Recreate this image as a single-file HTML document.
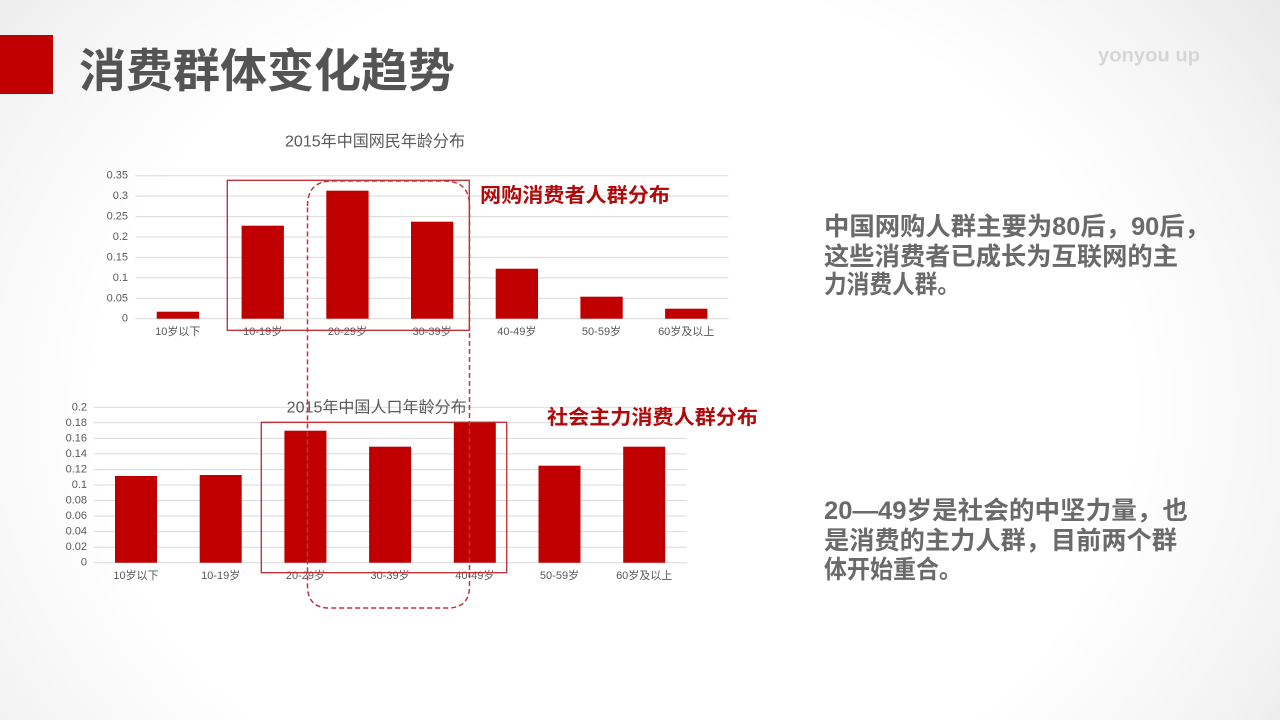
<!DOCTYPE html>
<html><head><meta charset="utf-8">
<style>
html,body{margin:0;padding:0;}
body{width:1280px;height:720px;overflow:hidden;
background:radial-gradient(ellipse 78% 115% at 48% 56%, #ffffff 52%, #f4f4f4 70%, #d8d8d8 100%);}
svg{display:block;}
text{font-family:"Liberation Sans","Noto Sans CJK SC",sans-serif;}
</style></head>
<body>
<svg width="1280" height="720" viewBox="0 0 1280 720" xmlns="http://www.w3.org/2000/svg">
<!-- header -->
<rect x="0" y="35" width="53" height="59" fill="#c00000"/>
<text x="79" y="71" font-size="46" font-weight="bold" fill="#545454" dominant-baseline="central" textLength="376" lengthAdjust="spacingAndGlyphs">消费群体变化趋势</text>
<text x="1098" y="56" font-size="19" font-weight="bold" fill="#d6d6d6" dominant-baseline="central" textLength="102" lengthAdjust="spacingAndGlyphs">yonyou up</text>

<!-- top chart -->
<text x="375" y="142" font-size="16" fill="#595959" text-anchor="middle" dominant-baseline="central" textLength="180" lengthAdjust="spacingAndGlyphs">2015年中国网民年龄分布</text>
<g stroke="#d9d9d9" stroke-width="1">
<line x1="135.5" x2="728.5" y1="318.7" y2="318.7"/>
<line x1="135.5" x2="728.5" y1="298.3" y2="298.3"/>
<line x1="135.5" x2="728.5" y1="277.9" y2="277.9"/>
<line x1="135.5" x2="728.5" y1="257.4" y2="257.4"/>
<line x1="135.5" x2="728.5" y1="237.0" y2="237.0"/>
<line x1="135.5" x2="728.5" y1="216.6" y2="216.6"/>
<line x1="135.5" x2="728.5" y1="196.1" y2="196.1"/>
<line x1="135.5" x2="728.5" y1="175.7" y2="175.7"/>
</g>
<g font-size="11" fill="#595959" text-anchor="end" dominant-baseline="central">
<text x="128" y="318.7">0</text>
<text x="128" y="298.3">0.05</text>
<text x="128" y="277.9">0.1</text>
<text x="128" y="257.4">0.15</text>
<text x="128" y="237.0">0.2</text>
<text x="128" y="216.6">0.25</text>
<text x="128" y="196.1">0.3</text>
<text x="128" y="175.7">0.35</text>
</g>
<g fill="#c00000">
<rect x="156.7" y="311.7" width="42.3" height="7"/>
<rect x="241.6" y="225.7" width="42.3" height="93"/>
<rect x="326.3" y="190.7" width="42.3" height="128"/>
<rect x="411.0" y="221.7" width="42.3" height="97"/>
<rect x="495.7" y="268.7" width="42.3" height="50"/>
<rect x="580.4" y="296.7" width="42.3" height="22"/>
<rect x="665.1" y="308.7" width="42.3" height="10"/>
</g>
<g font-size="11" fill="#595959" text-anchor="middle" dominant-baseline="central">
<text x="177.8" y="332">10岁以下</text>
<text x="262.7" y="332">10-19岁</text>
<text x="347.4" y="332">20-29岁</text>
<text x="432.1" y="332">30-39岁</text>
<text x="516.8" y="332">40-49岁</text>
<text x="601.5" y="332">50-59岁</text>
<text x="686.2" y="332">60岁及以上</text>
</g>
<rect x="227.3" y="180.3" width="242" height="150" fill="none" stroke="#c0282e" stroke-width="1.3"/>
<text x="480" y="196" font-size="20" font-weight="bold" fill="#b00a0a" dominant-baseline="central" textLength="190" lengthAdjust="spacingAndGlyphs">网购消费者人群分布</text>

<!-- bottom chart -->
<g stroke="#d9d9d9" stroke-width="1">
<line x1="93.8" x2="686.8" y1="562.7" y2="562.7"/>
<line x1="93.8" x2="686.8" y1="547.2" y2="547.2"/>
<line x1="93.8" x2="686.8" y1="531.6" y2="531.6"/>
<line x1="93.8" x2="686.8" y1="516.1" y2="516.1"/>
<line x1="93.8" x2="686.8" y1="500.5" y2="500.5"/>
<line x1="93.8" x2="686.8" y1="485.0" y2="485.0"/>
<line x1="93.8" x2="686.8" y1="469.5" y2="469.5"/>
<line x1="93.8" x2="686.8" y1="453.9" y2="453.9"/>
<line x1="93.8" x2="686.8" y1="438.4" y2="438.4"/>
<line x1="93.8" x2="686.8" y1="422.8" y2="422.8"/>
<line x1="93.8" x2="686.8" y1="407.3" y2="407.3"/>
</g>
<text x="376.7" y="408" font-size="16" fill="#595959" text-anchor="middle" dominant-baseline="central" textLength="180" lengthAdjust="spacingAndGlyphs">2015年中国人口年龄分布</text>
<g font-size="11" fill="#595959" text-anchor="end" dominant-baseline="central">
<text x="87" y="562.7">0</text>
<text x="87" y="547.2">0.02</text>
<text x="87" y="531.6">0.04</text>
<text x="87" y="516.1">0.06</text>
<text x="87" y="500.5">0.08</text>
<text x="87" y="485.0">0.1</text>
<text x="87" y="469.5">0.12</text>
<text x="87" y="453.9">0.14</text>
<text x="87" y="438.4">0.16</text>
<text x="87" y="422.8">0.18</text>
<text x="87" y="407.3">0.2</text>
</g>
<g fill="#c00000">
<rect x="115" y="476" width="42" height="86.7"/>
<rect x="199.7" y="475" width="42" height="87.7"/>
<rect x="284.4" y="430.7" width="42" height="132"/>
<rect x="369.1" y="446.7" width="42" height="116"/>
<rect x="453.8" y="421.7" width="42" height="141"/>
<rect x="538.5" y="465.7" width="42" height="97"/>
<rect x="623.2" y="446.7" width="42" height="116"/>
</g>
<g font-size="11" fill="#595959" text-anchor="middle" dominant-baseline="central">
<text x="136" y="576">10岁以下</text>
<text x="220.7" y="576">10-19岁</text>
<text x="305.4" y="576">20-29岁</text>
<text x="390.1" y="576">30-39岁</text>
<text x="474.8" y="576">40-49岁</text>
<text x="559.5" y="576">50-59岁</text>
<text x="644.2" y="576">60岁及以上</text>
</g>
<rect x="261.3" y="422.3" width="245.4" height="150.4" fill="none" stroke="#c0282e" stroke-width="1.3"/>
<text x="547" y="418" font-size="20" font-weight="bold" fill="#b00a0a" dominant-baseline="central" textLength="211" lengthAdjust="spacingAndGlyphs">社会主力消费人群分布</text>

<!-- dashed rounded rect -->
<path d="M307.5 206 Q307.5 181 332.5 181 L444.5 181 Q469.5 181 469.5 206 L469.5 586 Q469.5 608 447.5 608 L329.5 608 Q307.5 608 307.5 586 Z" fill="none" stroke="#c8323c" stroke-width="1.5" stroke-dasharray="5 3"/>

<!-- right paragraphs -->
<g font-size="25" font-weight="bold" fill="#6a6a6a" dominant-baseline="central">
<text x="824" y="227" textLength="386" lengthAdjust="spacingAndGlyphs">中国网购人群主要为80后，90后，</text>
<text x="824" y="257" textLength="354" lengthAdjust="spacingAndGlyphs">这些消费者已成长为互联网的主</text>
<text x="824" y="285" textLength="136" lengthAdjust="spacingAndGlyphs">力消费人群。</text>
<text x="824" y="511" textLength="364" lengthAdjust="spacingAndGlyphs">20—49岁是社会的中坚力量，也</text>
<text x="824" y="541" textLength="353" lengthAdjust="spacingAndGlyphs">是消费的主力人群，目前两个群</text>
<text x="824" y="570" textLength="138" lengthAdjust="spacingAndGlyphs">体开始重合。</text>
</g>
</svg>
</body></html>
